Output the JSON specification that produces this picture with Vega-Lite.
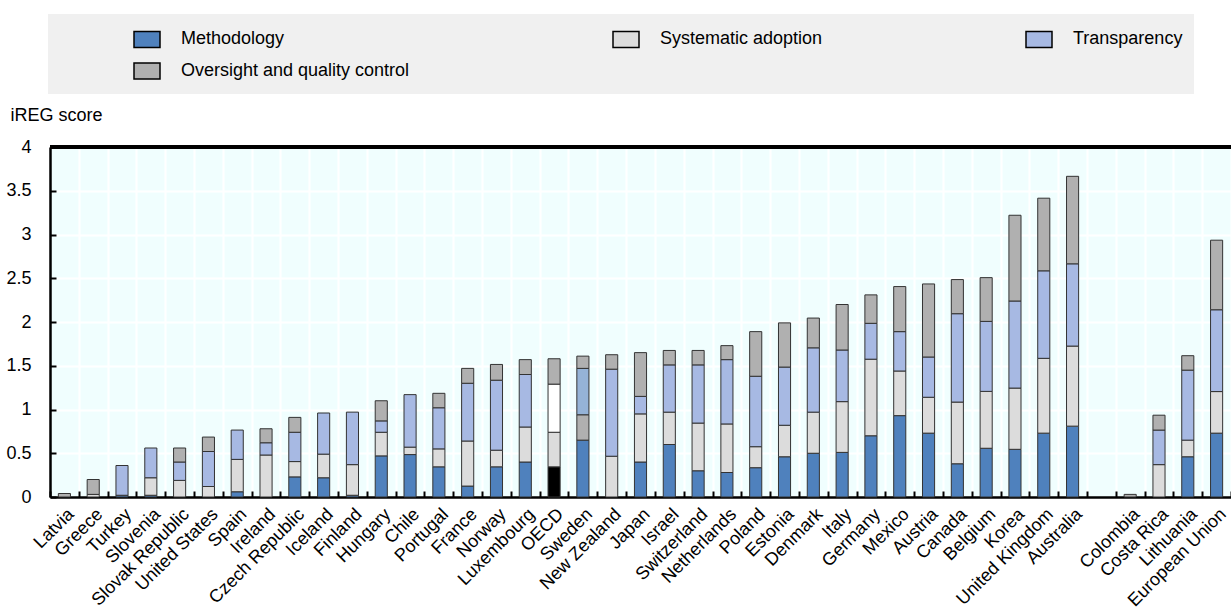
{
  "$schema": "https://vega.github.io/schema/vega-lite/v6.json",
  "width": 1181,
  "height": 350,
  "autosize": {"type": "none"},
  "padding": {"left": 50, "top": 147, "right": 0, "bottom": 119},
  "background": "#ffffff",
  "config": {
    "font": "Liberation Sans",
    "view": {"stroke": null, "fill": "#f0fefe"}
  },
  "data": {
    "values": [
      {"country": "Latvia", "Methodology": 0, "Systematic adoption": 0, "Transparency": 0, "Oversight and quality control": 0.04},
      {"country": "Greece", "Methodology": 0, "Systematic adoption": 0.03, "Transparency": 0, "Oversight and quality control": 0.17},
      {"country": "Turkey", "Methodology": 0.02, "Systematic adoption": 0, "Transparency": 0.34, "Oversight and quality control": 0},
      {"country": "Slovenia", "Methodology": 0.02, "Systematic adoption": 0.2, "Transparency": 0.34, "Oversight and quality control": 0},
      {"country": "Slovak Republic", "Methodology": 0, "Systematic adoption": 0.19, "Transparency": 0.21, "Oversight and quality control": 0.16},
      {"country": "United States", "Methodology": 0, "Systematic adoption": 0.12, "Transparency": 0.4, "Oversight and quality control": 0.165},
      {"country": "Spain", "Methodology": 0.06, "Systematic adoption": 0.37, "Transparency": 0.335, "Oversight and quality control": 0},
      {"country": "Ireland", "Methodology": 0, "Systematic adoption": 0.48, "Transparency": 0.14, "Oversight and quality control": 0.16},
      {"country": "Czech Republic", "Methodology": 0.23, "Systematic adoption": 0.175, "Transparency": 0.335, "Oversight and quality control": 0.17},
      {"country": "Iceland", "Methodology": 0.22, "Systematic adoption": 0.27, "Transparency": 0.47, "Oversight and quality control": 0},
      {"country": "Finland", "Methodology": 0.02, "Systematic adoption": 0.35, "Transparency": 0.6, "Oversight and quality control": 0},
      {"country": "Hungary", "Methodology": 0.47, "Systematic adoption": 0.27, "Transparency": 0.13, "Oversight and quality control": 0.23},
      {"country": "Chile", "Methodology": 0.485, "Systematic adoption": 0.085, "Transparency": 0.6, "Oversight and quality control": 0},
      {"country": "Portugal", "Methodology": 0.345, "Systematic adoption": 0.205, "Transparency": 0.47, "Oversight and quality control": 0.165},
      {"country": "France", "Methodology": 0.125, "Systematic adoption": 0.515, "Transparency": 0.66, "Oversight and quality control": 0.17},
      {"country": "Norway", "Methodology": 0.345, "Systematic adoption": 0.19, "Transparency": 0.8, "Oversight and quality control": 0.18},
      {"country": "Luxembourg", "Methodology": 0.4, "Systematic adoption": 0.4, "Transparency": 0.6, "Oversight and quality control": 0.17},
      {"country": "OECD", "Methodology": 0.345, "Systematic adoption": 0.395, "Transparency": 0.55, "Oversight and quality control": 0.29},
      {"country": "Sweden", "Methodology": 0.65, "Systematic adoption": 0.29, "Transparency": 0.53, "Oversight and quality control": 0.14},
      {"country": "New Zealand", "Methodology": 0, "Systematic adoption": 0.466, "Transparency": 0.995, "Oversight and quality control": 0.165},
      {"country": "Japan", "Methodology": 0.4, "Systematic adoption": 0.55, "Transparency": 0.2, "Oversight and quality control": 0.5},
      {"country": "Israel", "Methodology": 0.6, "Systematic adoption": 0.37, "Transparency": 0.54, "Oversight and quality control": 0.165},
      {"country": "Switzerland", "Methodology": 0.3, "Systematic adoption": 0.545, "Transparency": 0.665, "Oversight and quality control": 0.165},
      {"country": "Netherlands", "Methodology": 0.28, "Systematic adoption": 0.555, "Transparency": 0.735, "Oversight and quality control": 0.16},
      {"country": "Poland", "Methodology": 0.335, "Systematic adoption": 0.24, "Transparency": 0.805, "Oversight and quality control": 0.51},
      {"country": "Estonia", "Methodology": 0.46, "Systematic adoption": 0.36, "Transparency": 0.665, "Oversight and quality control": 0.505},
      {"country": "Denmark", "Methodology": 0.5, "Systematic adoption": 0.47, "Transparency": 0.735, "Oversight and quality control": 0.34},
      {"country": "Italy", "Methodology": 0.51, "Systematic adoption": 0.58, "Transparency": 0.59, "Oversight and quality control": 0.52},
      {"country": "Germany", "Methodology": 0.7, "Systematic adoption": 0.875, "Transparency": 0.41, "Oversight and quality control": 0.325},
      {"country": "Mexico", "Methodology": 0.93, "Systematic adoption": 0.51, "Transparency": 0.45, "Oversight and quality control": 0.515},
      {"country": "Austria", "Methodology": 0.73, "Systematic adoption": 0.41, "Transparency": 0.46, "Oversight and quality control": 0.835},
      {"country": "Canada", "Methodology": 0.38, "Systematic adoption": 0.705, "Transparency": 1.01, "Oversight and quality control": 0.39},
      {"country": "Belgium", "Methodology": 0.557, "Systematic adoption": 0.65, "Transparency": 0.8, "Oversight and quality control": 0.5},
      {"country": "Korea", "Methodology": 0.545, "Systematic adoption": 0.7, "Transparency": 0.995, "Oversight and quality control": 0.98},
      {"country": "United Kingdom", "Methodology": 0.73, "Systematic adoption": 0.855, "Transparency": 1.0, "Oversight and quality control": 0.83},
      {"country": "Australia", "Methodology": 0.81, "Systematic adoption": 0.915, "Transparency": 0.94, "Oversight and quality control": 1.0},
      {"country": "Colombia", "Methodology": 0, "Systematic adoption": 0, "Transparency": 0, "Oversight and quality control": 0.03},
      {"country": "Costa Rica", "Methodology": 0, "Systematic adoption": 0.37, "Transparency": 0.395, "Oversight and quality control": 0.17},
      {"country": "Lithuania", "Methodology": 0.46, "Systematic adoption": 0.19, "Transparency": 0.8, "Oversight and quality control": 0.165},
      {"country": "European Union", "Methodology": 0.73, "Systematic adoption": 0.475, "Transparency": 0.935, "Oversight and quality control": 0.795}
    ]
  },
  "transform": [
    {"fold": ["Methodology", "Systematic adoption", "Transparency", "Oversight and quality control"], "as": ["component", "value"]},
    {"filter": "datum.value > 0"},
    {"calculate": "indexof(['Methodology','Systematic adoption','Transparency','Oversight and quality control'], datum.component)", "as": "ord"},
    {"calculate": "(datum.country === 'OECD' && (datum.component === 'Methodology' || datum.component === 'Transparency')) || (datum.country === 'Sweden' && (datum.component === 'Systematic adoption' || datum.component === 'Transparency')) ? datum.country + ' ' + datum.component : datum.component", "as": "key"}
  ],
  "layer": [
    {
      "mark": {"type": "bar", "stroke": "#333333", "strokeWidth": 1, "width": {"band": 0.42}},
      "encoding": {
        "x": {
          "field": "country",
          "type": "nominal",
          "scale": {
            "domain": ["Latvia", "Greece", "Turkey", "Slovenia", "Slovak Republic", "United States", "Spain", "Ireland", "Czech Republic", "Iceland", "Finland", "Hungary", "Chile", "Portugal", "France", "Norway", "Luxembourg", "OECD", "Sweden", "New Zealand", "Japan", "Israel", "Switzerland", "Netherlands", "Poland", "Estonia", "Denmark", "Italy", "Germany", "Mexico", "Austria", "Canada", "Belgium", "Korea", "United Kingdom", "Australia", " ", "Colombia", "Costa Rica", "Lithuania", "European Union"],
            "paddingInner": 0,
            "paddingOuter": 0
          },
          "axis": {
            "title": null,
            "labelAngle": -45,
            "labelFontSize": 18,
            "labelColor": "#000000",
            "labelPadding": 14,
            "domainColor": "#000000",
            "domainWidth": 2.5,
            "tickBand": "extent",
            "tickColor": "#000000",
            "tickSize": -6,
            "tickWidth": 2,
            "grid": true,
            "gridColor": "#ffffff",
            "gridWidth": 2
          }
        },
        "y": {
          "field": "value",
          "type": "quantitative",
          "stack": "zero",
          "scale": {"domain": [0, 4], "nice": false},
          "axis": {
            "title": "iREG score",
            "titleAngle": 0,
            "titleX": -40,
            "titleY": -32,
            "titleAlign": "left",
            "titleBaseline": "middle",
            "titleFontSize": 18,
            "titleFontWeight": "normal",
            "titleColor": "#000000",
            "values": [0, 0.5, 1, 1.5, 2, 2.5, 3, 3.5, 4],
            "format": ".1~f",
            "labelFontSize": 18,
            "labelColor": "#000000",
            "labelPadding": 25,
            "domainColor": "#000000",
            "domainWidth": 2.5,
            "tickColor": "#000000",
            "tickSize": -6,
            "tickWidth": 2,
            "grid": true,
            "gridColor": "#ffffff",
            "gridWidth": 2
          }
        },
        "order": {"field": "ord", "type": "quantitative"},
        "color": {
          "field": "key",
          "type": "nominal",
          "scale": {
            "domain": ["Methodology", "Systematic adoption", "Transparency", "Oversight and quality control", "OECD Methodology", "OECD Transparency", "Sweden Systematic adoption", "Sweden Transparency"],
            "range": ["#4f81bd", "#dcdcdc", "#a7b9e3", "#b0b0b0", "#000000", "#ffffff", "#b0b0b0", "#95b3d7"]
          },
          "legend": {
            "title": " ",
            "titleOrient": "left",
            "titlePadding": 74,
            "values": ["Methodology", "Systematic adoption", "Transparency", "Oversight and quality control"],
            "orient": "none",
            "legendX": -2,
            "legendY": -133,
            "direction": "horizontal",
            "columns": 3,
            "columnPadding": 200,
            "rowPadding": 6,
            "padding": 11,
            "fillColor": "#f0f0f0",
            "symbolType": "M-1,-0.62H1V0.62H-1Z",
            "symbolSize": 676,
            "symbolStrokeColor": "#000000",
            "symbolStrokeWidth": 1.5,
            "symbolOpacity": 1,
            "labelFontSize": 18,
            "labelColor": "#000000",
            "labelOffset": 20,
            "labelLimit": 400
          }
        }
      }
    },
    {
      "mark": {"type": "rule", "color": "#000000", "strokeWidth": 3},
      "encoding": {"y": {"datum": 4}}
    }
  ]
}
